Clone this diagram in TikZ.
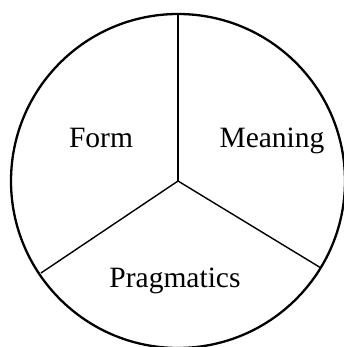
\documentclass[tikz,border=0pt]{standalone}
\usepackage{fontspec}
\setmainfont{Liberation Serif}
\begin{document}
\begin{tikzpicture}[x=1pt,y=-1pt,
  lbl/.style={font=\fontsize{29.5}{32}\selectfont, anchor=base, inner sep=0pt},
  rim/.style={line width=2.3pt},
  spoke/.style={line width=1.4pt}]
\useasboundingbox (0,0) rectangle (344,347);
\clip (0,0) rectangle (344,347);
\coordinate (c) at (178,181);
\draw[rim] (c) circle[radius=167];
\draw[spoke] (c) -- ++(0,-167) coordinate (t);
\draw[spoke] (c) -- ++(-137,92) coordinate (l);
\draw[spoke] (c) -- ++(143,87) coordinate (r);
\node[lbl] (form) at (101,148) {Form};
\node[lbl] (meaning) at (272,148) {Meaning};
\node[lbl] (prag) at (175,287) {Pragmatics};
\end{tikzpicture}
\end{document}
